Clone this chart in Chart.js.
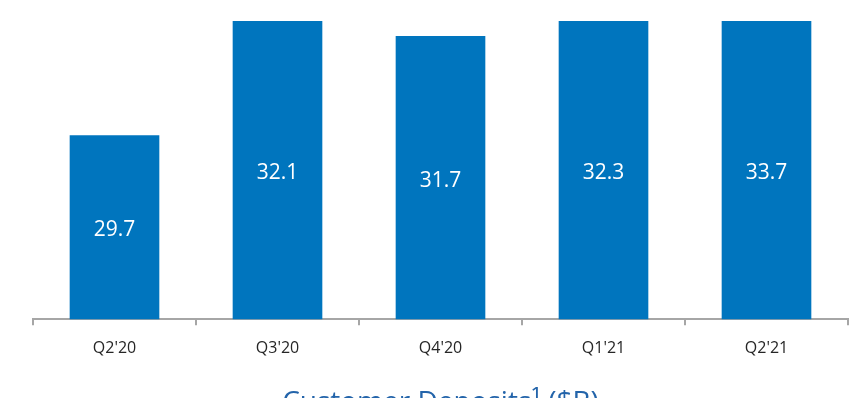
<!DOCTYPE html>
<html>
<head>
<meta charset="utf-8">
<script src="https://cdn.jsdelivr.net/npm/chart.js@4/dist/chart.umd.min.js"></script>
<style>
    html, body { margin: 0; padding: 0; background: #fff; overflow: hidden; }
    #wrap { position: absolute; left: 0; top: 0; width: 850px; height: 422px; }
</style>
</head>
<body>
<div id="wrap"><canvas id="depositsChart"></canvas></div>
<script>
// ============================================================
// Data
// ============================================================

const QUARTERS = ["Q2'20", "Q3'20", "Q4'20", "Q1'21", "Q2'21"];
const DEPOSITS = [29.7, 32.1, 31.7, 32.3, 33.7];

// visible window of the value axis (bars above the top are cut off)
const Y_MIN = 26;
const Y_MAX = 32;

const BAR_COLOR = '#0075BE';
const TITLE_TEXT = 'Customer Deposits\u00B9 ($B)';

// ============================================================
// Value labels, centred in the visible part of each bar
// ============================================================

const barLabels = {
    id: 'barLabels',
    afterDatasetsDraw(chart) {
        const ctx = chart.ctx;
        const area = chart.chartArea;
        const meta = chart.getDatasetMeta(0);

        ctx.save();
        ctx.fillStyle = '#ffffff';
        ctx.font = '21px "Open Sans", sans-serif';
        ctx.textAlign = 'center';
        ctx.textBaseline = 'middle';

        meta.data.forEach((bar, i) => {
            const top = Math.max(bar.y, area.top);
            const bottom = Math.min(bar.base, area.bottom);
            // small nudge down so the digits sit optically centred
            ctx.fillText(DEPOSITS[i].toFixed(1), bar.x, (top + bottom) / 2 + 3);
        });
        ctx.restore();
    }
};

// ============================================================
// Chart
// ============================================================

new Chart(document.getElementById('depositsChart'), {
    type: 'bar',
    data: {
        labels: QUARTERS,
        datasets: [{
            label: 'Customer Deposits',
            data: DEPOSITS,
            backgroundColor: BAR_COLOR,
            borderWidth: 0,
            categoryPercentage: 1.0,
            barPercentage: 0.55
        }]
    },
    options: {
        responsive: true,
        maintainAspectRatio: false,
        animation: false,
        layout: {
            padding: { left: 33, right: 2, top: 21, bottom: 0 }
        },
        plugins: {
            legend: { display: false },
            tooltip: { enabled: false },
            title: {
                display: true,
                position: 'bottom',
                text: TITLE_TEXT,
                color: '#2364AA',
                font: { family: '"Open Sans", sans-serif', size: 28, weight: 'normal' },
                padding: { top: 14, bottom: 2 }
            }
        },
        scales: {
            x: {
                offset: true,
                border: { display: true, color: '#a6a6a6', width: 2 },
                grid: {
                    display: true,
                    offset: true,
                    drawOnChartArea: false,
                    drawTicks: true,
                    tickLength: 6,
                    color: '#a6a6a6',
                    lineWidth: 2
                },
                ticks: {
                    color: '#262626',
                    padding: 14,
                    font: { family: '"Open Sans", sans-serif', size: 16 }
                }
            },
            y: {
                display: false,
                min: Y_MIN,
                max: Y_MAX
            }
        }
    },
    plugins: [barLabels]
});
</script>
</body>
</html>
